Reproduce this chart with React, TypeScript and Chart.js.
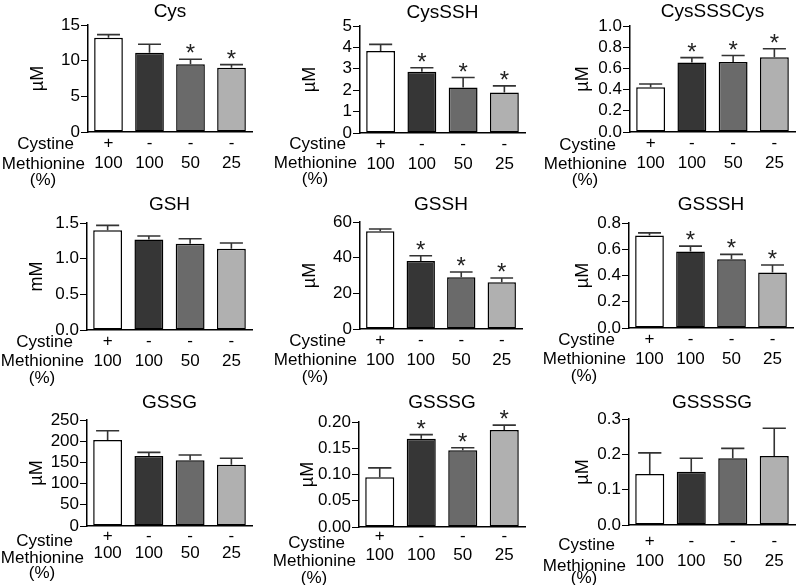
import React, { useEffect, useRef } from 'react';
import { Chart, registerables } from 'chart.js';

Chart.register(...registerables);

const FONT = '"Liberation Sans", Arial, Helvetica, sans-serif';

// ---------------- data ----------------
const cystineRow = ['+', '-', '-', '-'];
const methionineRow = ['100', '100', '50', '25'];
const barColors = ['#ffffff', '#363636', '#6a6a6a', '#b0b0b0'];

const titles = ['Cys', 'CysSSH', 'CysSSSCys', 'GSH', 'GSSH', 'GSSSH', 'GSSG', 'GSSSG', 'GSSSSG'];
const units = ['\u00b5M', '\u00b5M', '\u00b5M', 'mM', '\u00b5M', '\u00b5M', '\u00b5M', '\u00b5M', '\u00b5M'];
const axisMax = [15, 5, 1.0, 1.5, 60, 0.8, 250, 0.2, 0.3];
const axisStep = [5, 1, 0.2, 0.5, 20, 0.2, 50, 0.05, 0.1];
const tickDecimals = [0, 0, 1, 1, 0, 1, 0, 2, 1];

const cysMean = [13.2, 11.1, 9.5, 9.0];
const cysSem = [0.45, 1.2, 0.7, 0.45];
const cysSig = [0, 0, 1, 1];

const cysshMean = [3.83, 2.86, 2.13, 1.89];
const cysshSem = [0.31, 0.19, 0.46, 0.31];
const cysshSig = [0, 1, 1, 1];

const cysssscysMean = [0.423, 0.655, 0.661, 0.705];
const cysssscysSem = [0.03, 0.047, 0.06, 0.08];
const cysssscysSig = [0, 1, 1, 1];

const gshMean = [1.397, 1.27, 1.21, 1.14];
const gshSem = [0.07, 0.048, 0.07, 0.08];
const gshSig = [0, 0, 0, 0];

const gsshMean = [54.8, 38.1, 29.0, 26.2];
const gsshSem = [1.3, 3.0, 3.0, 2.4];
const gsshSig = [0, 1, 1, 1];

const gssshMean = [0.704, 0.583, 0.523, 0.422];
const gssshSem = [0.021, 0.041, 0.038, 0.058];
const gssshSig = [0, 1, 1, 1];

const gssgMean = [202.8, 165.0, 154.9, 144.7];
const gssgSem = [22, 8.7, 12.6, 15];
const gssgSig = [0, 0, 0, 0];

const gssssgMean = [0.0946, 0.168, 0.146, 0.185];
const gssssgSem = [0.018, 0.008, 0.005, 0.009];
const gssssgSig = [0, 1, 1, 1];

const gsssssgMean = [0.144, 0.151, 0.189, 0.195];
const gsssssgSem = [0.06, 0.038, 0.028, 0.079];
const gsssssgSig = [0, 0, 0, 0];

const means = [cysMean, cysshMean, cysssscysMean, gshMean, gsshMean, gssshMean, gssgMean, gssssgMean, gsssssgMean];
const sems = [cysSem, cysshSem, cysssscysSem, gshSem, gsshSem, gssshSem, gssgSem, gssssgSem, gsssssgSem];
const sigs = [cysSig, cysshSig, cysssscysSig, gshSig, gsshSig, gssshSig, gssgSig, gssssgSig, gsssssgSig];

// ---------------- layout (page pixels) ----------------
const YW = 100; // y-axis box width
const XH = 62; // x-axis box height
const RP = 2; // right padding

const LAYOUT = [
  { axisX: 88, top: 25, bottom: 132, right: 252, titleY: 12, tickPad: 1.5, tickLH: 1.18, hdr: [12, 32, 48], unitDx: 50 },
  { axisX: 360, top: 26, bottom: 133, right: 525, titleY: 13, tickPad: 1.5, tickLH: 1.18, hdr: [11, 30, 46], unitDx: 50 },
  { axisX: 630, top: 26, bottom: 132, right: 795, titleY: 12, tickPad: 1.5, tickLH: 1.18, hdr: [13, 32, 48], unitDx: 47 },
  { axisX: 87, top: 223, bottom: 330, right: 252, titleY: 205, tickPad: 1.5, tickLH: 1.18, hdr: [12, 31, 48], unitDx: 50 },
  { axisX: 360, top: 222, bottom: 329, right: 522, titleY: 205, tickPad: 1.5, tickLH: 1.18, hdr: [12.5, 31.5, 48.5], unitDx: 50 },
  { axisX: 629, top: 223, bottom: 328, right: 793, titleY: 205, tickPad: 1.5, tickLH: 1.18, hdr: [12.5, 31.5, 48.5], unitDx: 46 },
  { axisX: 87, top: 420, bottom: 526, right: 252, titleY: 403, tickPad: 2, tickLH: 1.0, hdr: [15.5, 32, 47], unitDx: 50 },
  { axisX: 359, top: 422, bottom: 527, right: 525, titleY: 403, tickPad: 0.5, tickLH: 1.08, hdr: [16, 34.5, 51], unitDx: 51 },
  { axisX: 629, top: 419, bottom: 525, right: 795, titleY: 403, tickPad: 6.7, tickLH: 1.18, hdr: [20, 41.5, 53], unitDx: 46 },
];

function Panel({ index }: { index: number }) {
  const ref = useRef<HTMLCanvasElement | null>(null);
  const L = LAYOUT[index];
  const canvasLeft = L.axisX - YW;
  const canvasTop = L.titleY - 15;
  const canvasW = L.right - L.axisX + YW + RP;
  const canvasH = L.bottom - canvasTop + XH;

  useEffect(() => {
    const canvas = ref.current;
    if (!canvas) return;
    const mean = means[index];
    const sem = sems[index];
    const sig = sigs[index];
    const dec = tickDecimals[index];
    const titleLH = 19 * 1.2;
    const titlePadTop = 15 - titleLH / 2;
    const titlePadBottom = L.top - canvasTop - titlePadTop - titleLH;

    const errorBars = {
      id: 'errorBars' + index,
      afterDatasetsDraw(chart: any) {
        const meta = chart.getDatasetMeta(0);
        const ys = chart.scales.y;
        const ctx = chart.ctx;
        ctx.save();
        meta.data.forEach((bar: any, i: number) => {
          const p = bar.getProps(['x', 'width'], true);
          const yTop = ys.getPixelForValue(mean[i]);
          const yCap = ys.getPixelForValue(mean[i] + sem[i]);
          ctx.strokeStyle = '#333333';
          ctx.lineWidth = 1.6;
          ctx.beginPath();
          ctx.moveTo(p.x, yTop);
          ctx.lineTo(p.x, yCap);
          ctx.moveTo(p.x - p.width * 0.4, yCap);
          ctx.lineTo(p.x + p.width * 0.4, yCap);
          ctx.stroke();
          if (sig[i]) {
            ctx.fillStyle = '#222222';
            ctx.font = '24px ' + FONT;
            ctx.textAlign = 'center';
            ctx.textBaseline = 'alphabetic';
            ctx.fillText('*', p.x, yCap + 2);
          }
        });
        ctx.restore();
      },
    };

    const rowHeaders = {
      id: 'rowHeaders' + index,
      afterDraw(chart: any) {
        const ca = chart.chartArea;
        const ctx = chart.ctx;
        ctx.save();
        ctx.font = '17px ' + FONT;
        ctx.fillStyle = '#000000';
        ctx.textBaseline = 'middle';
        ctx.textAlign = 'right';
        ctx.fillText('Cystine', ca.left - 14, ca.bottom + L.hdr[0]);
        ctx.fillText('Methionine', ca.left - 3, ca.bottom + L.hdr[1]);
        ctx.textAlign = 'center';
        ctx.fillText('(%)', ca.left - 45, ca.bottom + L.hdr[2]);
        ctx.restore();
      },
    };

    const chart = new Chart(canvas, {
      type: 'bar',
      data: {
        labels: cystineRow.map((c, i) => [c, methionineRow[i]]),
        datasets: [
          {
            data: mean,
            backgroundColor: barColors,
            borderColor: '#000000',
            borderWidth: 1.5,
            borderSkipped: false,
            barPercentage: 0.7,
            categoryPercentage: 1.0,
          },
        ],
      },
      options: {
        responsive: false,
        animation: false,
        events: [],
        layout: { padding: { left: 0, top: 0, right: RP, bottom: 0 } },
        plugins: {
          legend: { display: false },
          tooltip: { enabled: false },
          title: {
            display: true,
            text: titles[index],
            fullSize: false,
            color: '#000000',
            font: { family: FONT, size: 19, weight: 'normal', lineHeight: 1.2 },
            padding: { top: titlePadTop, bottom: titlePadBottom },
          },
        },
        scales: {
          x: {
            type: 'category',
            offset: true,
            grid: { display: false, drawTicks: false, tickLength: 0 },
            border: { display: true, color: '#000000', width: 1.5 },
            ticks: {
              color: '#000000',
              font: { family: FONT, size: 17, lineHeight: L.tickLH },
              padding: L.tickPad,
              autoSkip: false,
              maxRotation: 0,
              minRotation: 0,
            },
            afterFit(scale: any) {
              scale.height = XH;
            },
          },
          y: {
            min: 0,
            max: axisMax[index],
            ticks: {
              stepSize: axisStep[index],
              autoSkip: false,
              color: '#000000',
              font: { family: FONT, size: 17 },
              padding: 1,
              callback: (v: any) => Number(v).toFixed(dec),
            },
            grid: {
              display: true,
              drawOnChartArea: false,
              drawTicks: true,
              tickLength: 7,
              color: '#000000',
              lineWidth: 1,
            },
            border: { display: true, color: '#000000', width: 1.5 },
            title: {
              display: true,
              text: units[index],
              color: '#000000',
              font: { family: FONT, size: 18, lineHeight: 1.2 },
              padding: { top: YW - L.unitDx - 10.8, bottom: 0 },
            },
            afterFit(scale: any) {
              scale.width = YW;
            },
          },
        },
      },
      plugins: [errorBars, rowHeaders],
    } as any);

    return () => {
      chart.destroy();
    };
  }, [index]);

  return (
    <canvas
      ref={ref}
      width={canvasW}
      height={canvasH}
      style={{
        position: 'absolute',
        left: canvasLeft,
        top: canvasTop,
        width: canvasW,
        height: canvasH,
      }}
    />
  );
}

export default function App() {
  return (
    <div
      style={{
        position: 'absolute',
        left: 0,
        top: 0,
        width: 796,
        height: 585,
        overflow: 'hidden',
        background: '#ffffff',
      }}
    >
      {titles.map((_, i) => (
        <Panel key={i} index={i} />
      ))}
    </div>
  );
}
